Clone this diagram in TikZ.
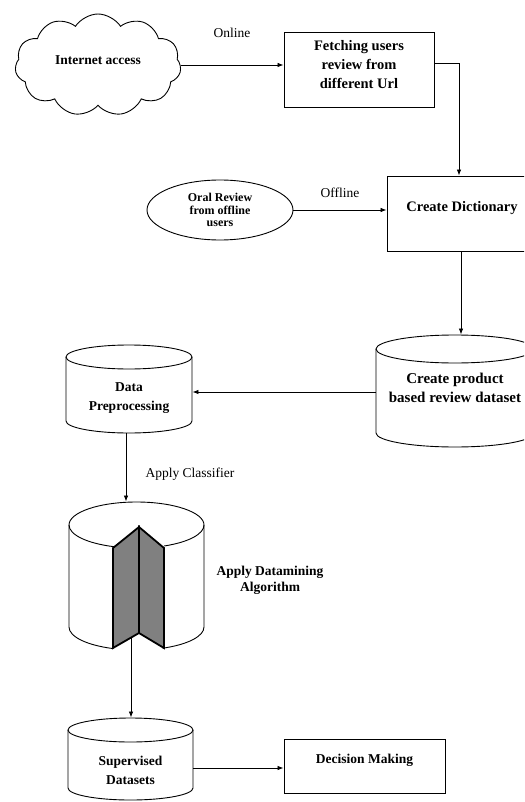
\documentclass[tikz,border=0pt]{standalone}
\usepackage{fontspec}
\setmainfont{Liberation Serif}
\usetikzlibrary{shapes.symbols,shapes.geometric,arrows.meta}
\newcommand{\lift}[2]{\raisebox{#1}[\height][\depth]{#2}}
\begin{document}
\begin{tikzpicture}[x=1pt,y=-1pt,
  line width=0.9pt,
  bx/.style={draw,rectangle,inner sep=0pt,align=center},
  zone/.style={rectangle,inner sep=0pt,align=center},
  bigf/.style={font=\bfseries\fontsize{14.5}{19}\selectfont},
  midf/.style={font=\bfseries\fontsize{13.5}{19}\selectfont},
  btxt/.style={align=center},
  stxt/.style={align=center,font=\bfseries\fontsize{12}{12.5}\selectfont},
  lab/.style={font=\fontsize{13.5}{15}\selectfont},
  arr/.style={-{Latex[length=6pt,width=4.5pt]}, line width=0.8pt},
  notch/.style={draw,fill=black!50,line width=1.8pt,line join=miter}
]
\useasboundingbox (0,0) rectangle (524,802);
\clip (0,0) rectangle (524,802);

% cloud
\node[cloud,draw,cloud puffs=11,cloud puff arc=115,cloud ignores aspect,
      minimum width=166pt,minimum height=102pt,inner sep=0pt,
      font=\bfseries\fontsize{13.5}{15}\selectfont] (inet) at (98,65) {\lift{5pt}{Internet access}};

% fetching box
\node[bx,bigf,minimum width=150pt,minimum height=75pt] (fetch) at (359,69.5)
  {\lift{3.5pt}{\begin{tabular}{@{}c@{}}Fetching users\\review from\\different Url\end{tabular}}};

% create dictionary box (clipped at right)
\node[bx,bigf,minimum width=150pt,minimum height=75pt] (dict) at (462,213.5)
  {\lift{5pt}{Create Dictionary}};

% oral review ellipse
\node[ellipse,draw,minimum width=146pt,minimum height=60pt,inner sep=0pt,stxt] (oral) at (220,210)
  {Oral Review\\from offline\\users};

% product cylinder: x 376..534, y 335..447, ry 14
\draw (376,349) -- (376,433) arc[start angle=180,end angle=360,x radius=79pt,y radius=14pt] -- (534,349);
\draw (455,349) ellipse[x radius=79pt,y radius=14pt];
\node[zone,minimum width=158pt,minimum height=112pt] (prod) at (455,391) {};
\node[btxt,font=\bfseries\fontsize{15}{19}\selectfont] (prodt) at (455,388) {Create product\\based review dataset};

% data preprocessing cylinder: x 66..192, y 345..433, ry 12
\draw (66,357) -- (66,421) arc[start angle=180,end angle=360,x radius=63pt,y radius=12pt] -- (192,357);
\draw (129,357) ellipse[x radius=63pt,y radius=12pt];
\node[zone,minimum width=126pt,minimum height=88pt] (prep) at (129,389) {};
\node[btxt,midf] (prept) at (129,398) {Data\\Preprocessing};

% big algorithm cylinder with notch
\draw (69,525) arc[start angle=180,end angle=0,x radius=67.5pt,y radius=23pt];
\draw (69,525) arc[start angle=180,end angle=250.7,x radius=67.5pt,y radius=23pt];
\draw (204,525) arc[start angle=0,end angle=-65.7,x radius=67.5pt,y radius=23pt];
\draw (69,525) -- (69,627) arc[start angle=180,end angle=249.6,x radius=67.5pt,y radius=23pt];
\draw (204,525) -- (204,627) arc[start angle=0,end angle=-67.2,x radius=67.5pt,y radius=23pt];
\draw[notch] (113,548) -- (139,527) -- (139,633) -- (113,648) -- cycle;
\draw[notch] (139,527) -- (164,548) -- (164,648) -- (139,633) -- cycle;
\node[zone,minimum width=135pt,minimum height=145pt] (algo) at (136.5,574.5) {};
\coordinate (algoout) at (131,637);
\node[btxt,font=\bfseries\fontsize{13.5}{16}\selectfont] (algot) at (270,580) {Apply Datamining\\Algorithm};

% supervised datasets cylinder: x 68..193, y 718..800, ry 12
\draw (68,730) -- (68,788) arc[start angle=180,end angle=360,x radius=62.5pt,y radius=12pt] -- (193,730);
\draw (130.5,730) ellipse[x radius=62.5pt,y radius=12pt];
\node[zone,minimum width=125pt,minimum height=82pt] (sup) at (130.5,759) {};
\node[btxt,midf] (supt) at (130.5,770) {Supervised\\Datasets};

% decision box
\node[bx,midf,minimum width=161pt,minimum height=54pt] (dec) at (364.5,766)
  {\lift{6pt}{Decision Making}};

% connectors
\draw[arr] (inet.east) -- (inet.east -| fetch.west);
\node[lab] (online) at (232,33) {Online};
\draw[arr] (fetch.east |- 0,63) -| ([xshift=-3pt]dict.north);
\draw[arr] (oral.east) -- (oral.east -| dict.west);
\node[lab] (offline) at (340,193) {Offline};
\draw[arr] ([xshift=-1pt]dict.south) -- ([xshift=-1pt]dict.south |- prod.north);
\draw[arr] (prod.west |- 0,392) -- (prep.east |- 0,392);
\draw[arr] ([xshift=-3pt]prep.south) -- ([xshift=-3pt]prep.south |- algo.north);
\node[lab] (classif) at (190,474) {Apply Classifier};
\draw[arr] (algoout) -- (algoout |- sup.north);
\draw[arr] (sup.east |- 0,768) -- (dec.west |- 0,768);
\end{tikzpicture}
\end{document}
